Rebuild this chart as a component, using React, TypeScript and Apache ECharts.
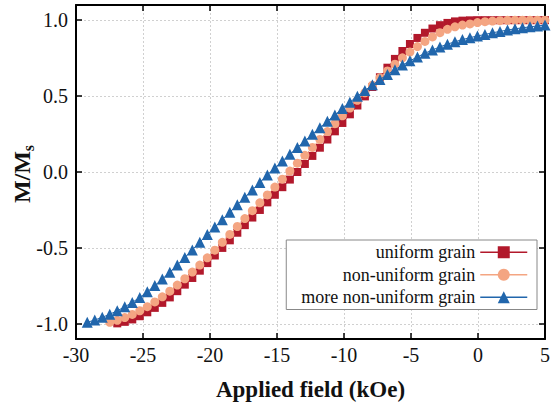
import React, { useEffect, useRef } from "react";
import * as echarts from "echarts";

// Applied field values (kOe) at which the magnetization was sampled
const field = [
  5, 4.44, 3.88, 3.32, 2.76, 2.2, 1.64, 1.08, 0.52, -0.04,
  -0.6, -1.16, -1.72, -2.28, -2.84, -3.4, -3.96, -4.52, -5.08, -5.64,
  -6.2, -6.76, -7.32, -7.88, -8.44, -9, -9.56, -10.12, -10.68, -11.24,
  -11.8, -12.36, -12.92, -13.48, -14.04, -14.6, -15.16, -15.72, -16.28, -16.84,
  -17.4, -17.96, -18.52, -19.08, -19.64, -20.2, -20.76, -21.32, -21.88, -22.44,
  -23, -23.56, -24.12, -24.68, -25.24, -25.8, -26.36, -26.92, -27.48, -28.04,
  -28.6, -29.16,
];

// M/Ms for each grain distribution (index matches field)
const uniformGrain = [
  1, 1, 1, 1, 1, 1, 1, 1, 1, 1,
  0.999, 0.997, 0.992, 0.982, 0.967, 0.945, 0.917, 0.883, 0.843, 0.797,
  0.745, 0.687, 0.624, 0.56, 0.498, 0.438, 0.38, 0.323, 0.268, 0.214,
  0.16, 0.106, 0.053, 0, -0.05, -0.1, -0.15, -0.2, -0.25, -0.3,
  -0.35, -0.4, -0.45, -0.5, -0.55, -0.6, -0.65, -0.698, -0.742, -0.785,
  -0.826, -0.862, -0.895, -0.924, -0.95, -0.971, -0.987, -0.997,
];

const nonUniformGrain = [
  1, 1, 1, 1, 1, 0.999, 0.997, 0.994, 0.99, 0.984,
  0.975, 0.968, 0.956, 0.94, 0.918, 0.89, 0.86, 0.826, 0.79, 0.752,
  0.71, 0.666, 0.62, 0.572, 0.522, 0.472, 0.421, 0.37, 0.318, 0.266,
  0.214, 0.162, 0.11, 0.058, 0.006, -0.047, -0.099, -0.151, -0.203, -0.255,
  -0.307, -0.359, -0.411, -0.463, -0.515, -0.565, -0.613, -0.659, -0.703, -0.745,
  -0.785, -0.822, -0.856, -0.887, -0.914, -0.938, -0.959, -0.977, -0.99,
];

const moreNonUniformGrain = [
  0.968, 0.962, 0.956, 0.95, 0.943, 0.935, 0.926, 0.917, 0.906, 0.896,
  0.885, 0.872, 0.858, 0.842, 0.824, 0.804, 0.782, 0.758, 0.732, 0.704,
  0.674, 0.642, 0.609, 0.574, 0.537, 0.499, 0.46, 0.418, 0.376, 0.334,
  0.292, 0.249, 0.205, 0.161, 0.117, 0.072, 0.027, -0.019, -0.069, -0.118,
  -0.167, -0.216, -0.265, -0.314, -0.363, -0.412, -0.462, -0.513, -0.563, -0.613,
  -0.66, -0.705, -0.748, -0.789, -0.826, -0.859, -0.888, -0.914, -0.937, -0.957,
  -0.975, -0.99,
];

const seriesNames = ["uniform grain", "non-uniform grain", "more non-uniform grain"];
const seriesColors = ["#B2182B", "#F4A582", "#2166AC"];
const seriesSymbols = ["rect", "circle", "triangle"];
const seriesSizes = [8, 9, 11];
const seriesValues = [uniformGrain, nonUniformGrain, moreNonUniformGrain];

const FONT = "Liberation Serif";

export default function App() {
  const ref = useRef<HTMLDivElement>(null);

  useEffect(() => {
    document.body.style.margin = "0";
    if (!ref.current) return;
    const chart = echarts.init(ref.current, undefined, { renderer: "svg" });

    const axisLine = { show: true, onZero: false, lineStyle: { color: "#000", width: 2 } };
    const axisTick = { show: true, inside: true, length: 6, lineStyle: { color: "#000", width: 1.5 } };
    const splitLine = { show: true, lineStyle: { color: "#d0d0d0", type: [2, 2], width: 1 } };

    const option: any = {
      animation: false,
      backgroundColor: "#fff",
      textStyle: { fontFamily: FONT },
      grid: { left: 76, right: 6, top: 5, bottom: 66, containLabel: false, outerBoundsMode: "none" },
      xAxis: [
        {
          type: "value",
          min: -30,
          max: 5,
          interval: 5,
          position: "bottom",
          name: "Applied field (kOe)",
          nameLocation: "middle",
          nameGap: 39,
          nameTextStyle: { fontFamily: FONT, fontSize: 23, fontWeight: "bold", color: "#111" },
          axisLine,
          axisTick,
          axisLabel: { fontFamily: FONT, fontSize: 20, color: "#111", margin: 6 },
          splitLine,
        },
        {
          type: "value",
          min: -30,
          max: 5,
          interval: 5,
          position: "top",
          axisLine,
          axisTick,
          axisLabel: { show: false },
          splitLine: { show: false },
        },
      ],
      yAxis: [
        {
          type: "value",
          min: -1.1,
          max: 1.1,
          splitNumber: 5,
          position: "left",
          axisLine,
          axisTick,
          axisLabel: {
            fontFamily: FONT,
            fontSize: 20,
            color: "#111",
            margin: 8,
            showMinLabel: false,
            showMaxLabel: false,
            formatter: (v: number) => v.toFixed(1),
          },
          splitLine,
        },
        {
          type: "value",
          min: -1.1,
          max: 1.1,
          splitNumber: 5,
          position: "right",
          axisLine,
          axisTick,
          axisLabel: { show: false },
          splitLine: { show: false },
        },
      ],
      legend: {
        orient: "vertical",
        right: 14,
        top: 240,
        align: "right",
        padding: [1, 9, 1, 9],
        itemGap: 0,
        itemWidth: 47,
        itemHeight: 15,
        backgroundColor: "#fff",
        borderColor: "#888",
        borderWidth: 1,
        borderRadius: 0,
        lineStyle: { width: 1.5 },
        textStyle: {
          fontFamily: FONT,
          fontSize: 18,
          color: "#111",
          width: 180,
          align: "right",
          lineHeight: 22.5,
        },
        data: seriesNames,
      },
      graphic: [
        {
          type: "text",
          x: 22,
          y: 174,
          rotation: Math.PI / 2,
          style: {
            text: "{m|M/M}{s|s}",
            align: "center",
            verticalAlign: "middle",
            rich: {
              m: { fontFamily: FONT, fontSize: 24, fontWeight: "bold", fill: "#111", lineHeight: 28, verticalAlign: "middle" },
              s: { fontFamily: FONT, fontSize: 16, fontWeight: "bold", fill: "#111", lineHeight: 28, verticalAlign: "bottom" },
            },
          },
        },
      ],
      series: seriesNames.map((name, i) => ({
        name,
        type: "line",
        xAxisIndex: 0,
        yAxisIndex: 0,
        data: seriesValues[i].map((y, k) => [field[k], y]),
        symbol: seriesSymbols[i],
        symbolSize: seriesSizes[i],
        showSymbol: true,
        color: seriesColors[i],
        lineStyle: { color: seriesColors[i], width: 1 },
        itemStyle: { color: seriesColors[i], borderWidth: 0 },
        clip: false,
        z: 2 + i,
      })),
    };

    chart.setOption(option);
    return () => chart.dispose();
  }, []);

  return <div ref={ref} style={{ width: 551, height: 405 }} />;
}
